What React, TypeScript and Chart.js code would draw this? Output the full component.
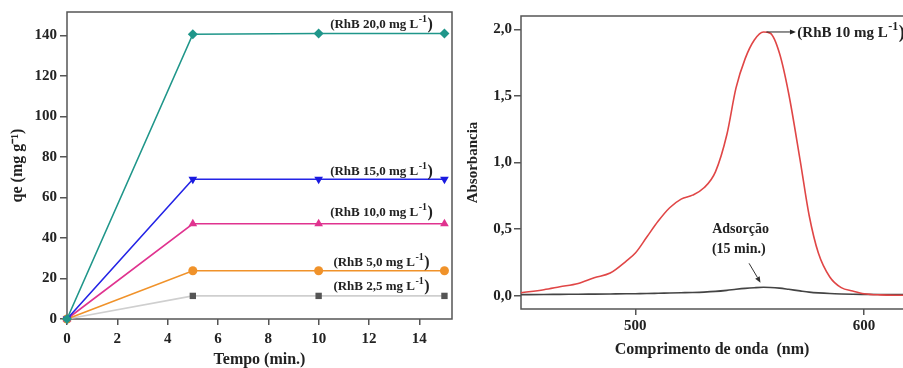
import React, { useEffect, useRef } from 'react';
import { Chart, registerables } from 'chart.js';

Chart.register(...registerables);

const FONT = '"Liberation Serif", "Times New Roman", serif';
const TEXT = '#222';
const FRAME = '#555';

// ---- Left chart data ----
const tempo = [0, 5, 10, 15];
const qe20 = [0, 140.5, 140.9, 140.9];
const qe15 = [0, 69, 69, 69];
const qe10 = [0, 47, 47, 47];
const qe5 = [0, 23.8, 23.8, 23.8];
const qe25 = [0, 11.4, 11.4, 11.4];
const seriesNames = ['(RhB 20,0 mg L', '(RhB 15,0 mg L', '(RhB 10,0 mg L', '(RhB 5,0 mg L', '(RhB 2,5 mg L'];
const timeTicks = [0, 2, 4, 6, 8, 10, 12, 14];
const qeTicks = [0, 20, 40, 60, 80, 100, 120, 140];

// ---- Right chart data ----
const wavelength = [450, 460, 467, 475, 482, 489, 496, 500, 505, 510, 515, 520, 525, 530, 535, 540, 544, 548, 552, 556, 559, 563, 567, 572, 576, 580, 585, 590, 595, 600, 607, 617];
const absRhB = [0.022, 0.045, 0.067, 0.092, 0.135, 0.17, 0.26, 0.32, 0.44, 0.56, 0.66, 0.725, 0.755, 0.81, 0.93, 1.21, 1.56, 1.78, 1.92, 1.98, 1.97, 1.82, 1.52, 1.02, 0.6, 0.32, 0.14, 0.06, 0.035, 0.015, 0.006, 0.003];
const absAds = [0.008, 0.009, 0.01, 0.011, 0.012, 0.013, 0.014, 0.015, 0.016, 0.018, 0.02, 0.022, 0.024, 0.027, 0.032, 0.04, 0.048, 0.055, 0.06, 0.063, 0.062, 0.057, 0.048, 0.036, 0.027, 0.021, 0.016, 0.013, 0.011, 0.01, 0.009, 0.008];
const waveTicks = [500, 600];
const absTicks = [0, 0.5, 1, 1.5, 2];

// ---- styles ----
const leftStyles = [
  { color: '#1f968a', point: 'rectRot', rot: 0, radius: 5, pointColor: '#1f968a', labelOffset: 10 },
  { color: '#2424e6', point: 'triangle', rot: 180, radius: 5, pointColor: '#1a1ae0', labelOffset: 9 },
  { color: '#e0338f', point: 'triangle', rot: 0, radius: 5, pointColor: '#e0338f', labelOffset: 12 },
  { color: '#f0922a', point: 'circle', rot: 0, radius: 4.5, pointColor: '#f0922a', labelOffset: 9 },
  { color: '#cfcfcf', point: 'rect', rot: 0, radius: 4.5, pointColor: '#555555', labelOffset: 10 },
];

function drawRhB(ctx: CanvasRenderingContext2D, text: string, cx: number, cy: number, align: 'center' | 'left', size: number) {
  ctx.save();
  ctx.fillStyle = TEXT;
  ctx.textBaseline = 'alphabetic';
  ctx.textAlign = 'left';
  const mainFont = `bold ${size}px ${FONT}`;
  const supFont = `bold ${Math.round(size * 0.77)}px ${FONT}`;
  const parFont = `bold ${Math.round(size * 1.23)}px ${FONT}`;
  ctx.font = mainFont;
  const w1 = ctx.measureText(text).width;
  ctx.font = supFont;
  const w2 = ctx.measureText('-1').width;
  ctx.font = parFont;
  const w3 = ctx.measureText(')').width;
  const total = w1 + w2 + 1 + w3;
  const x0 = align === 'center' ? cx - total / 2 : cx;
  const base = cy + size * 0.35;
  ctx.font = mainFont;
  ctx.fillText(text, x0, base);
  ctx.font = supFont;
  ctx.fillText('-1', x0 + w1 + 0.5, base - size * 0.46);
  ctx.font = parFont;
  ctx.fillText(')', x0 + w1 + w2 + 1, base + 1);
  ctx.restore();
}

function arrow(ctx: CanvasRenderingContext2D, x1: number, y1: number, x2: number, y2: number, color: string) {
  const ang = Math.atan2(y2 - y1, x2 - x1);
  const hl = 6, hw = 2.6;
  ctx.save();
  ctx.strokeStyle = color;
  ctx.fillStyle = color;
  ctx.lineWidth = 1;
  ctx.beginPath();
  ctx.moveTo(x1, y1);
  ctx.lineTo(x2 - hl * Math.cos(ang), y2 - hl * Math.sin(ang));
  ctx.stroke();
  ctx.beginPath();
  ctx.moveTo(x2, y2);
  ctx.lineTo(x2 - hl * Math.cos(ang) + hw * Math.sin(ang), y2 - hl * Math.sin(ang) - hw * Math.cos(ang));
  ctx.lineTo(x2 - hl * Math.cos(ang) - hw * Math.sin(ang), y2 - hl * Math.sin(ang) + hw * Math.cos(ang));
  ctx.closePath();
  ctx.fill();
  ctx.restore();
}

const tickFont = { family: FONT, size: 15, weight: 'bold' as const };

export default function App() {
  const leftRef = useRef<HTMLCanvasElement>(null);
  const rightRef = useRef<HTMLCanvasElement>(null);

  useEffect(() => {
    const series = [qe20, qe15, qe10, qe5, qe25];
    const leftPlugin = {
      id: 'leftDeco',
      beforeDatasetsDraw(chart: any) {
        const { ctx, chartArea: a } = chart;
        ctx.save();
        ctx.strokeStyle = FRAME;
        ctx.lineWidth = 1.5;
        ctx.strokeRect(a.left, a.top, a.right - a.left, a.bottom - a.top);
        ctx.restore();
      },
      afterDatasetsDraw(chart: any) {
        const { ctx, scales } = chart;
        series.forEach((s, i) => {
          const y = scales.y.getPixelForValue(s[s.length - 1]) - leftStyles[i].labelOffset;
          const x = scales.x.getPixelForValue(12.5);
          drawRhB(ctx, seriesNames[i], x, y, 'center', 13);
        });
      },
    };

    const left = new Chart(leftRef.current!, {
      type: 'line',
      data: {
        datasets: series.map((s, i) => ({
          label: seriesNames[i],
          data: tempo.map((t, j) => ({ x: t, y: s[j] })),
          borderColor: leftStyles[i].color,
          backgroundColor: leftStyles[i].pointColor,
          pointBorderColor: leftStyles[i].pointColor,
          pointBackgroundColor: leftStyles[i].pointColor,
          pointStyle: leftStyles[i].point as any,
          pointRotation: leftStyles[i].rot,
          pointRadius: leftStyles[i].radius,
          pointBorderWidth: 0,
          borderWidth: 1.6,
          tension: 0,
          clip: false as any,
        })),
      },
      options: {
        animation: false,
        responsive: false,
        events: [],
        layout: { padding: { top: 12, right: 8, left: 0, bottom: 0 } },
        plugins: { legend: { display: false }, tooltip: { enabled: false } },
        scales: {
          x: {
            type: 'linear',
            min: 0,
            max: 15.3,
            afterBuildTicks: (s: any) => { s.ticks = timeTicks.map((v) => ({ value: v })); },
            afterFit: (s: any) => { s.height = 49; },
            border: { display: false },
            grid: { drawOnChartArea: false, drawTicks: true, tickLength: 6, color: FRAME, lineWidth: 1.5 },
            ticks: { font: tickFont, color: TEXT, padding: 5, maxRotation: 0 },
            title: { display: true, text: 'Tempo (min.)', color: TEXT, font: { family: FONT, size: 16, weight: 'bold', lineHeight: 1 }, padding: { top: 0, bottom: 0 } },
          },
          y: {
            type: 'linear',
            min: 0,
            max: 151.5,
            afterBuildTicks: (s: any) => { s.ticks = qeTicks.map((v) => ({ value: v })); },
            afterFit: (s: any) => { s.width = 67; },
            border: { display: false },
            grid: { drawOnChartArea: false, drawTicks: true, tickLength: 7, color: FRAME, lineWidth: 1.5 },
            ticks: { font: tickFont, color: TEXT, padding: 3 },
            title: { display: true, text: 'qe (mg g⁻¹)', color: TEXT, font: { family: FONT, size: 16, weight: 'bold', lineHeight: 1 }, padding: { top: 10, bottom: 0 } },
          },
        },
      },
      plugins: [leftPlugin],
    });

    const rightPlugin = {
      id: 'rightDeco',
      beforeDatasetsDraw(chart: any) {
        const { ctx, chartArea: a } = chart;
        ctx.save();
        ctx.strokeStyle = FRAME;
        ctx.lineWidth = 1.5;
        ctx.beginPath();
        ctx.moveTo(chart.width + 2, a.top);
        ctx.lineTo(a.left, a.top);
        ctx.lineTo(a.left, a.bottom);
        ctx.lineTo(chart.width + 2, a.bottom);
        ctx.stroke();
        ctx.restore();
      },
      afterDatasetsDraw(chart: any) {
        const { ctx, scales } = chart;
        const X = (v: number) => scales.x.getPixelForValue(v);
        const Y = (v: number) => scales.y.getPixelForValue(v);
        arrow(ctx, X(557.3), Y(1.98), X(570.2), Y(1.98), '#222');
        drawRhB(ctx, '(RhB 10 mg L', X(570.8), Y(1.98), 'left', 15);
        ctx.save();
        ctx.fillStyle = TEXT;
        ctx.font = `bold 14px ${FONT}`;
        ctx.textAlign = 'center';
        ctx.textBaseline = 'middle';
        ctx.fillText('Adsorção', X(546), Y(0.5));
        ctx.fillText('(15 min.)', X(545.2), Y(0.345));
        ctx.restore();
        arrow(ctx, X(549.7), Y(0.243), X(554.7), Y(0.098), '#333');
      },
    };

    const right = new Chart(rightRef.current!, {
      type: 'line',
      data: {
        datasets: [
          {
            label: 'RhB 10 mg L-1',
            data: wavelength.map((w, j) => ({ x: w, y: absRhB[j] })),
            borderColor: '#e04646',
            borderWidth: 1.6,
            pointRadius: 0,
            cubicInterpolationMode: 'monotone',
          },
          {
            label: 'Adsorção (15 min.)',
            data: wavelength.map((w, j) => ({ x: w, y: absAds[j] })),
            borderColor: '#444444',
            borderWidth: 1.6,
            pointRadius: 0,
            cubicInterpolationMode: 'monotone',
          },
        ],
      },
      options: {
        animation: false,
        responsive: false,
        events: [],
        layout: { padding: { top: 16, right: 0, left: 0, bottom: 0 } },
        plugins: { legend: { display: false }, tooltip: { enabled: false } },
        scales: {
          x: {
            type: 'linear',
            min: 450,
            max: 617,
            afterBuildTicks: (s: any) => { s.ticks = waveTicks.map((v) => ({ value: v })); },
            afterFit: (s: any) => { s.height = 59; },
            border: { display: false },
            grid: { drawOnChartArea: false, drawTicks: true, tickLength: 6, color: FRAME, lineWidth: 1.5 },
            ticks: { font: tickFont, color: TEXT, padding: 2, maxRotation: 0 },
            title: { display: true, text: 'Comprimento de onda  (nm)', color: TEXT, font: { family: FONT, size: 16, weight: 'bold', lineHeight: 1 }, padding: { top: 0, bottom: 10 } },
          },
          y: {
            type: 'linear',
            min: -0.1,
            max: 2.1,
            afterBuildTicks: (s: any) => { s.ticks = absTicks.map((v) => ({ value: v })); },
            afterFit: (s: any) => { s.width = 61; },
            border: { display: false },
            grid: { drawOnChartArea: false, drawTicks: true, tickLength: 7, color: FRAME, lineWidth: 1.5 },
            ticks: { font: tickFont, color: TEXT, padding: 2, callback: (v: any) => Number(v).toFixed(1).replace('.', ',') },
            title: { display: true, text: 'Absorbancia', color: TEXT, font: { family: FONT, size: 15, weight: 'bold', lineHeight: 1 }, padding: { top: 5.5, bottom: 0 } },
          },
        },
      },
      plugins: [rightPlugin],
    });

    return () => {
      left.destroy();
      right.destroy();
    };
  }, []);

  return (
    <div style={{ position: 'fixed', left: 0, top: 0, width: 903, height: 368, display: 'flex', background: '#fff' }}>
      <canvas ref={leftRef} width={460} height={368} style={{ display: 'block', width: 460, height: 368 }} />
      <canvas ref={rightRef} width={443} height={368} style={{ display: 'block', width: 443, height: 368 }} />
    </div>
  );
}
